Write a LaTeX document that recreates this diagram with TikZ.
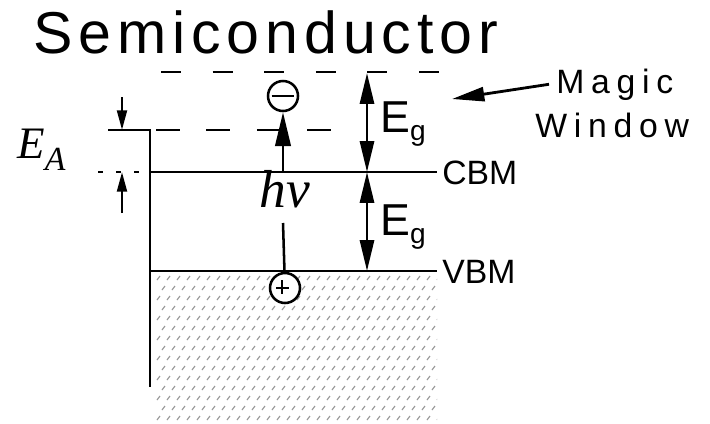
\documentclass[tikz,border=0pt]{standalone}
\usepackage{fontspec}
\usetikzlibrary{arrows.meta}
\newfontfamily\sansfont{Liberation Sans}
\newfontfamily\titlefont[LetterSpace=10]{Liberation Sans}
\newfontfamily\widefont[LetterSpace=20]{Liberation Sans}
\newfontfamily\serifit{Liberation Serif}
\newcommand{\Egap}{E\raisebox{-6pt}{\fontsize{20}{20}\selectfont g}}
\tikzset{
  band/.style={line width=2.1pt},
  lvl/.style={line width=2.1pt,dash pattern=on 0.5cm off 0.79cm},
  ealvl/.style={line width=2.1pt,dash pattern=on 0.6cm off 0.66cm},
  tick/.style={line width=1.8pt,dash pattern=on 0.13cm off 0.32cm},
  eg/.style={line width=2pt,
             {Triangle[length=22pt,width=10pt]}-{Triangle[length=22pt,width=10pt]}},
  small/.style={line width=1.8pt,-{Triangle[length=14pt,width=7pt]}},
  photon/.style={line width=1.8pt,-{Triangle[length=24pt,width=11pt]}},
  ptr/.style={line width=2pt,-{Triangle[length=23pt,width=10pt]}},
  carrier/.style={circle,draw,line width=1.8pt,fill=white,minimum size=0.75cm,
                  inner sep=0pt},
  lbl/.style={font=\sansfont\fontsize{24}{24}\selectfont,inner sep=0pt},
  dotmark/.style={gray!80,line width=0.8pt},
}

\begin{document}
\begin{tikzpicture}[x=0.025cm,y=-0.025cm]
  \useasboundingbox (0,0) rectangle (710,423);

  \node[anchor=base west,inner sep=0pt,
        font=\titlefont\fontsize{42}{44}\selectfont]
    (title) at (33,53) {Semiconductor};

  % filled valence band
  \begin{scope}
    \clip (153,275) rectangle (437,423);
    \foreach \j in {0,...,15}{
      \foreach \i in {0,...,28}{
        \draw[dotmark] ({157+10*\i+5*mod(\j,2)},{280+10*\j}) -- ++(3,-4);
      }
    }
  \end{scope}

  % levels
  \draw[lvl] (161,72) -- (440,72);
  \draw[ealvl] (156,130) -- (334,130);
  \draw[band] (108,130) -- (150,130) -- (150,387);
  \draw[band] (150,172) -- (437,172);
  \draw[band] (150,271) -- (437,271);
  \draw[tick] (98,172) -- (143,172);

  \node[lbl,anchor=base west] (cbmlbl) at (442,184) {CBM};
  \node[lbl,anchor=base west] (vbmlbl) at (442,283) {VBM};

  % E_A
  \coordinate (eatop) at (122,97);
  \coordinate (eaup) at (122,130);
  \coordinate (eabot) at (122,213);
  \coordinate (ealow) at (122,172);
  \draw[small] (eatop) -- (eaup);
  \draw[small] (eabot) -- (ealow);
  \node[anchor=base west,inner sep=0pt,font=\serifit\itshape\fontsize{32}{32}\selectfont]
    (ealbl) at (17,158) {E\raisebox{-9pt}{\fontsize{24}{24}\selectfont A}};

  % band gaps
  \coordinate (gtop) at (367,73);
  \coordinate (gcbm) at (367,172);
  \coordinate (gvbm) at (367,271);
  \draw[eg] (gtop) -- (gcbm);
  \draw[eg] (gcbm) -- (gvbm);
  \node[lbl,anchor=base west,font=\sansfont\fontsize{31.8}{32}\selectfont]
    (eg1) at (380,132) {\Egap};
  \node[lbl,anchor=base west,font=\sansfont\fontsize{31.8}{32}\selectfont]
    (eg2) at (380,235) {\Egap};

  % excitation
  \node[carrier] (elec) at (283,96) {};
  \draw[line width=1.8pt] ([xshift=0.12cm]elec.west) -- ([xshift=-0.12cm]elec.east);
  \node[carrier] (hole) at (285,288) {};
  \draw[line width=1.5pt] ([shift={(-9,0)}]hole.center) -- ([shift={(4,0)}]hole.center);
  \draw[line width=1.5pt] ([shift={(-3,-8)}]hole.center) -- ([shift={(-3,6)}]hole.center);
  \coordinate (hnubot) at (283,223);
  \coordinate (exc) at (283,172);
  \draw[line width=1.8pt] (hole) -- (hnubot);
  \draw[photon] (exc) -- (elec.south);
  \node[anchor=base,inner sep=0pt,font=\serifit\itshape\fontsize{38}{38}\selectfont]
    (hnu) at (285,207) {hν};

  % magic window
  \node[anchor=base west,inner sep=0pt,inner xsep=5pt,
        font=\widefont\fontsize{24}{24}\selectfont] (magic) at (549,93) {Magic};
  \node[anchor=base west,inner sep=0pt,
        font=\widefont\fontsize{24}{24}\selectfont] (window) at (535,137) {Window};
  \coordinate (win) at (452,99);
  \draw[ptr] (magic.west) -- (win);
\end{tikzpicture}
\end{document}
